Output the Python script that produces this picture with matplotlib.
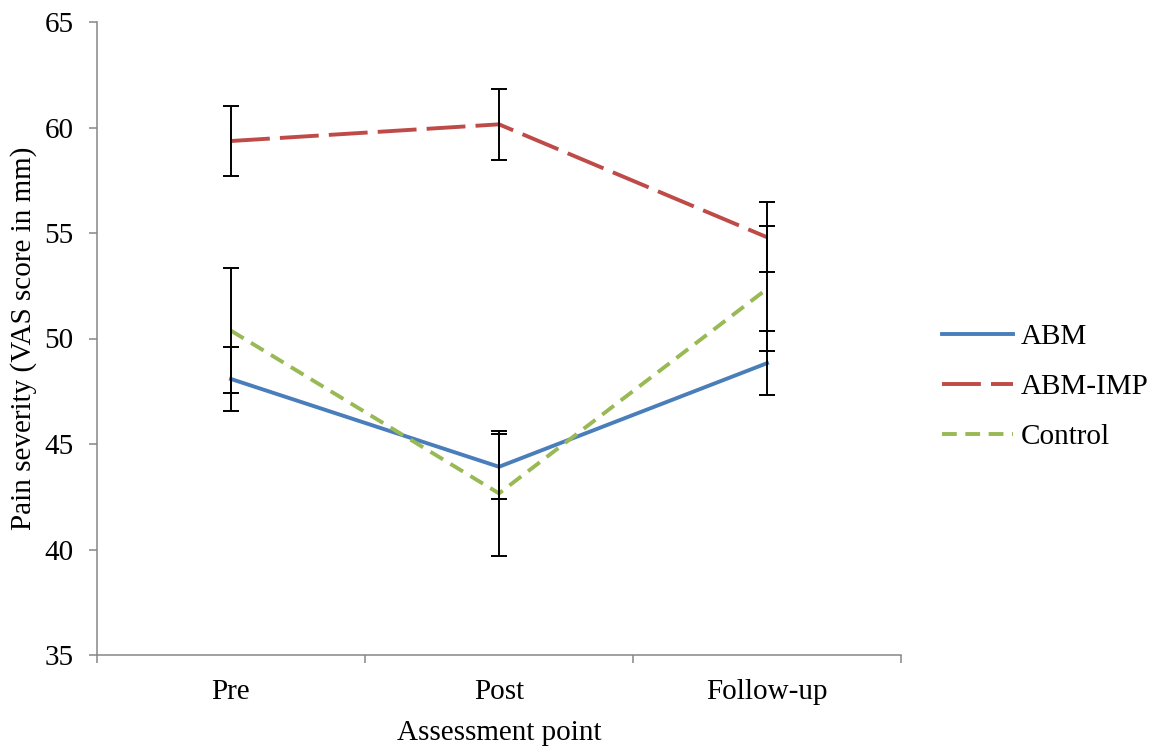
import numpy as np
import matplotlib
matplotlib.use('Agg')
import matplotlib.pyplot as plt

plt.rcParams['font.family'] = ['Liberation Serif', 'DejaVu Serif']

# 数据
points = ['Pre', 'Post', 'Follow-up']
abm = [48.08, 43.92, 48.83]
abm_err = [1.53, 1.54, 1.52]
abm_imp = [59.36, 60.15, 54.80]
abm_imp_err = [1.67, 1.67, 1.66]
control = [50.37, 42.66, 52.35]
control_err = [2.96, 2.96, 2.96]

fig = plt.figure(figsize=(11.65, 7.47), dpi=100)
ax = fig.add_axes([97/1165, 1 - 655/747, 804/1165, 633/747])

x = np.arange(len(points))
series = [
    ('ABM', abm, abm_err, '#4A7EBB', '-'),
    ('ABM-IMP', abm_imp, abm_imp_err, '#BE4B48', (0, (10, 2.6))),
    ('Control', control, control_err, '#98B954', (0, (3.8, 2.2))),
]
for name, vals, err, col, ls in series:
    ax.plot(x, vals, color=col, lw=2.8, linestyle=ls, label=name, zorder=2)
    ax.errorbar(x, vals, yerr=err, fmt='none', ecolor='black', elinewidth=1.4,
                capsize=6, capthick=1.4, zorder=3)

ax.set_xlim(-0.5, 2.5)
ax.set_ylim(35, 65)
ax.set_yticks(np.arange(35, 66, 5))
# 刻度线在类别之间，标签在类别中心
ax.set_xticks([-0.5, 0.5, 1.5, 2.5])
ax.set_xticklabels([])
ax.set_xticks(x, minor=True)
ax.set_xticklabels(points, minor=True)
ax.tick_params(axis='x', which='minor', length=0, pad=17, labelsize=21)
ax.tick_params(axis='x', which='major', length=6, width=1.1, color='#868686')
ax.tick_params(axis='y', length=6, width=1.1, color='#868686', labelsize=21, pad=11)

for s in ['top', 'right']:
    ax.spines[s].set_visible(False)
for s in ['left', 'bottom']:
    ax.spines[s].set_color('#868686')
    ax.spines[s].set_linewidth(1.1)

ax.set_xlabel('Assessment point', fontsize=21, labelpad=11)
ax.set_ylabel('Pain severity (VAS score in mm)', fontsize=21, labelpad=5)

fig.legend(loc='center left', bbox_to_anchor=(942/1165, 1 - 387/747), frameon=False,
           fontsize=21, handlelength=2.45, handletextpad=0.25, labelspacing=0.8,
           borderpad=0, borderaxespad=0)

fig.savefig('out.png', dpi=100)
